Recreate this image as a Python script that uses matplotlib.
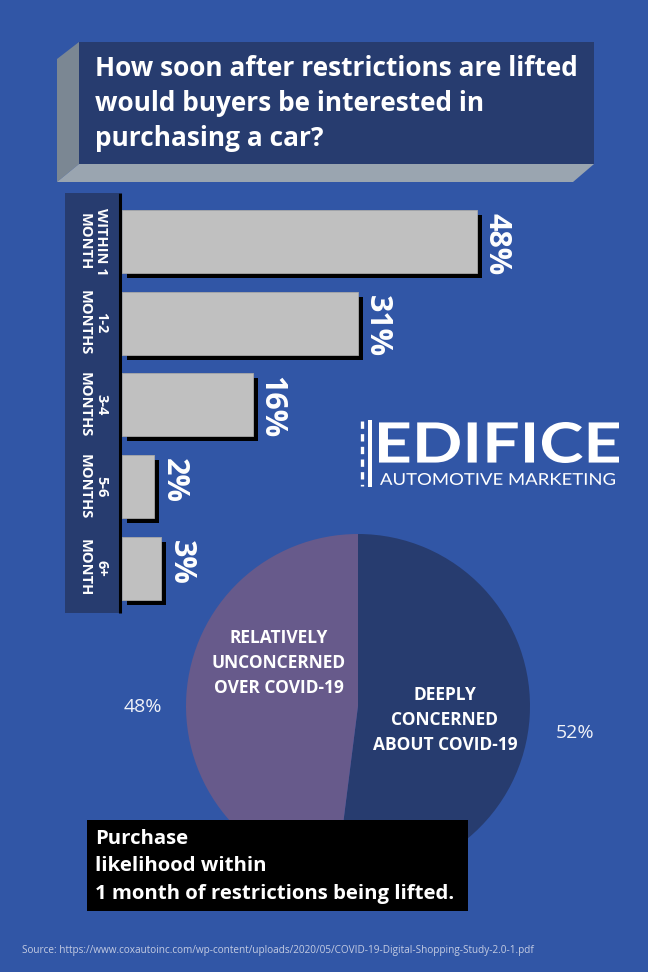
import matplotlib
matplotlib.use("Agg")
import matplotlib.pyplot as plt
from matplotlib.patches import Polygon, Rectangle
from matplotlib.textpath import TextPath
from matplotlib.font_manager import FontProperties
from matplotlib.patches import PathPatch
from matplotlib.transforms import Affine2D
import matplotlib.patheffects as pe

# ---------------- data ----------------
title_lines = ["How soon after restrictions are lifted",
               "would buyers be interested in",
               "purchasing a car?"]
bar_categories = ["WITHIN 1\nMONTH", "1-2\nMONTHS", "3-4\nMONTHS", "5-6\nMONTHS", "6+\nMONTH"]
bar_values = [48, 31, 16, 2, 3]
pie_labels = ["DEEPLY\nCONCERNED\nABOUT COVID-19", "RELATIVELY\nUNCONCERNED\nOVER COVID-19"]
pie_values = [52, 48]
box_text = "Purchase\nlikelihood within\n1 month of restrictions being lifted."
source_text = "Source: https://www.coxautoinc.com/wp-content/uploads/2020/05/COVID-19-Digital-Shopping-Study-2.0-1.pdf"

# ---------------- style ----------------
W, H = 648, 972
BG = "#3156a6"
NAVY = "#273c6f"
PURPLE = "#675a8b"
BAR_GRAY = "#c0c0c0"
FONT = ["Open Sans", "DejaVu Sans"]
BAR_BASE = -2.6

def frect(x0, y0, x1, y1):
    return [x0 / W, 1 - y1 / H, (x1 - x0) / W, (y1 - y0) / H]

fig = plt.figure(figsize=(W / 100, H / 100), dpi=100, facecolor=BG)

# background axes in pixel coords
bg = fig.add_axes([0, 0, 1, 1], zorder=0)
bg.set_xlim(0, W); bg.set_ylim(H, 0); bg.axis("off")

# title box with bevel
bg.add_patch(Polygon([(57, 59), (79, 42), (79, 164), (57, 182)], closed=True, fc="#7b8793", ec="none"))
bg.add_patch(Polygon([(57, 182), (79, 164), (594, 164), (573, 182)], closed=True, fc="#9aa5b0", ec="none"))
bg.add_patch(Rectangle((79, 42), 594 - 79, 164 - 42, fc=NAVY, ec="none"))
for i, line in enumerate(title_lines):
    bg.text(95, 68 + i * 35.5, line, color="white", fontsize=18.9, fontweight="bold",
            family=FONT, va="center", ha="left")

# category strip
bg.add_patch(Rectangle((65, 193), 54, 613 - 193, fc=NAVY, ec="none"))
bg.plot([120, 120], [193, 613], color="black", lw=2.2, solid_capstyle="butt")

# ---------------- bar chart ----------------
px_per_unit = 7.018
ax_left, ax_right = 122, 640
axb = fig.add_axes(frect(ax_left, 193, ax_right, 613), zorder=1)
axb.patch.set_alpha(0)
axb.set_xlim(BAR_BASE, BAR_BASE + (ax_right - ax_left) / px_per_unit)
axb.set_ylim(4.551, -0.594)
axb.axis("off")
ypos = list(range(len(bar_values)))
bar_h = 0.772
bars = axb.barh(ypos, [v - BAR_BASE for v in bar_values], left=BAR_BASE, height=bar_h,
                color=BAR_GRAY, edgecolor="#a8a8a8", linewidth=0.6)
for b in bars:
    b.set_path_effects([pe.SimplePatchShadow(offset=(3.6, -3.6), shadow_rgbFace="black", alpha=1.0),
                        pe.Normal()])
for y, v in zip(ypos, bar_values):
    axb.annotate(f"{v}%", xy=(v, y - bar_h / 2), xytext=(3.0, -2.2), textcoords="offset points",
                 rotation=-90, ha="left", va="top", color="white", fontsize=22,
                 fontweight="bold", family=FONT)
for y, cat in zip(ypos, bar_categories):
    axb.annotate(cat, xy=(BAR_BASE, y), xytext=(-21, 0), textcoords="offset points",
                 xycoords="data", rotation=-90, ha="center", va="center",
                 multialignment="center", color="white", fontsize=10.5,
                 fontweight="bold", family=FONT, linespacing=1.25, annotation_clip=False)

# ---------------- logo ----------------
def fit_text(ax, s, box, weight, family):
    x0, y0, x1, y1 = box
    tp = TextPath((0, 0), s, size=1, prop=FontProperties(family=family, weight=weight))
    ext = tp.get_extents()
    tr = Affine2D().translate(-ext.x0, -ext.y0).scale((x1 - x0) / ext.width,
                                                      -(y1 - y0) / ext.height).translate(x0, y1)
    ax.add_patch(PathPatch(tr.transform_path(tp), fc="white", ec="none"))

fit_text(bg, "EDIFICE", (379, 422, 619, 463), "bold", "Lato")
fit_text(bg, "AUTOMOTIVE MARKETING", (380, 473, 615, 485), "normal", "Lato")
bg.plot([362, 362], [421, 486], color="white", lw=2.4, linestyle=(0, (2.2, 1.6)), solid_capstyle="butt")
bg.add_patch(Rectangle((368, 420), 4, 67, fc="white", ec="none"))

# ---------------- pie ----------------
cx, cy, r = 358, 706, 172
axp = fig.add_axes(frect(cx - r, cy - r, cx + r, cy + r), zorder=2)
axp.pie(pie_values, colors=[NAVY, PURPLE], startangle=90, counterclock=False,
        radius=1, wedgeprops=dict(linewidth=0))
axp.set_xlim(-1, 1); axp.set_ylim(-1, 1); axp.set_aspect("equal"); axp.axis("off")

# ---------------- overlay texts ----------------
top = fig.add_axes([0, 0, 1, 1], zorder=5)
top.set_xlim(0, W); top.set_ylim(H, 0); top.axis("off"); top.patch.set_alpha(0)

top.text(445, 720, pie_labels[0], color="white", fontsize=12.5, fontweight="bold", family=FONT,
         ha="center", va="center", multialignment="center", linespacing=1.5)
top.text(279, 663, pie_labels[1], color="white", fontsize=12.5, fontweight="bold", family=FONT,
         ha="center", va="center", multialignment="center", linespacing=1.5)
top.text(575, 733, f"{pie_values[0]}%", color="#f0f2f8", fontsize=14, family=FONT, ha="center", va="center")
top.text(143, 707, f"{pie_values[1]}%", color="#f0f2f8", fontsize=14, family=FONT, ha="center", va="center")

top.add_patch(Rectangle((87, 820), 468 - 87, 911 - 820, fc="black", ec="none"))
top.text(95, 866, box_text, color="white", fontsize=14.7, fontweight="bold", family=FONT,
         ha="left", va="center", linespacing=1.5)

top.text(22, 950, source_text, color="#c3cbe2", fontsize=7.2, family=FONT, ha="left", va="center")

fig.savefig("out.png", dpi=100, facecolor=BG)
